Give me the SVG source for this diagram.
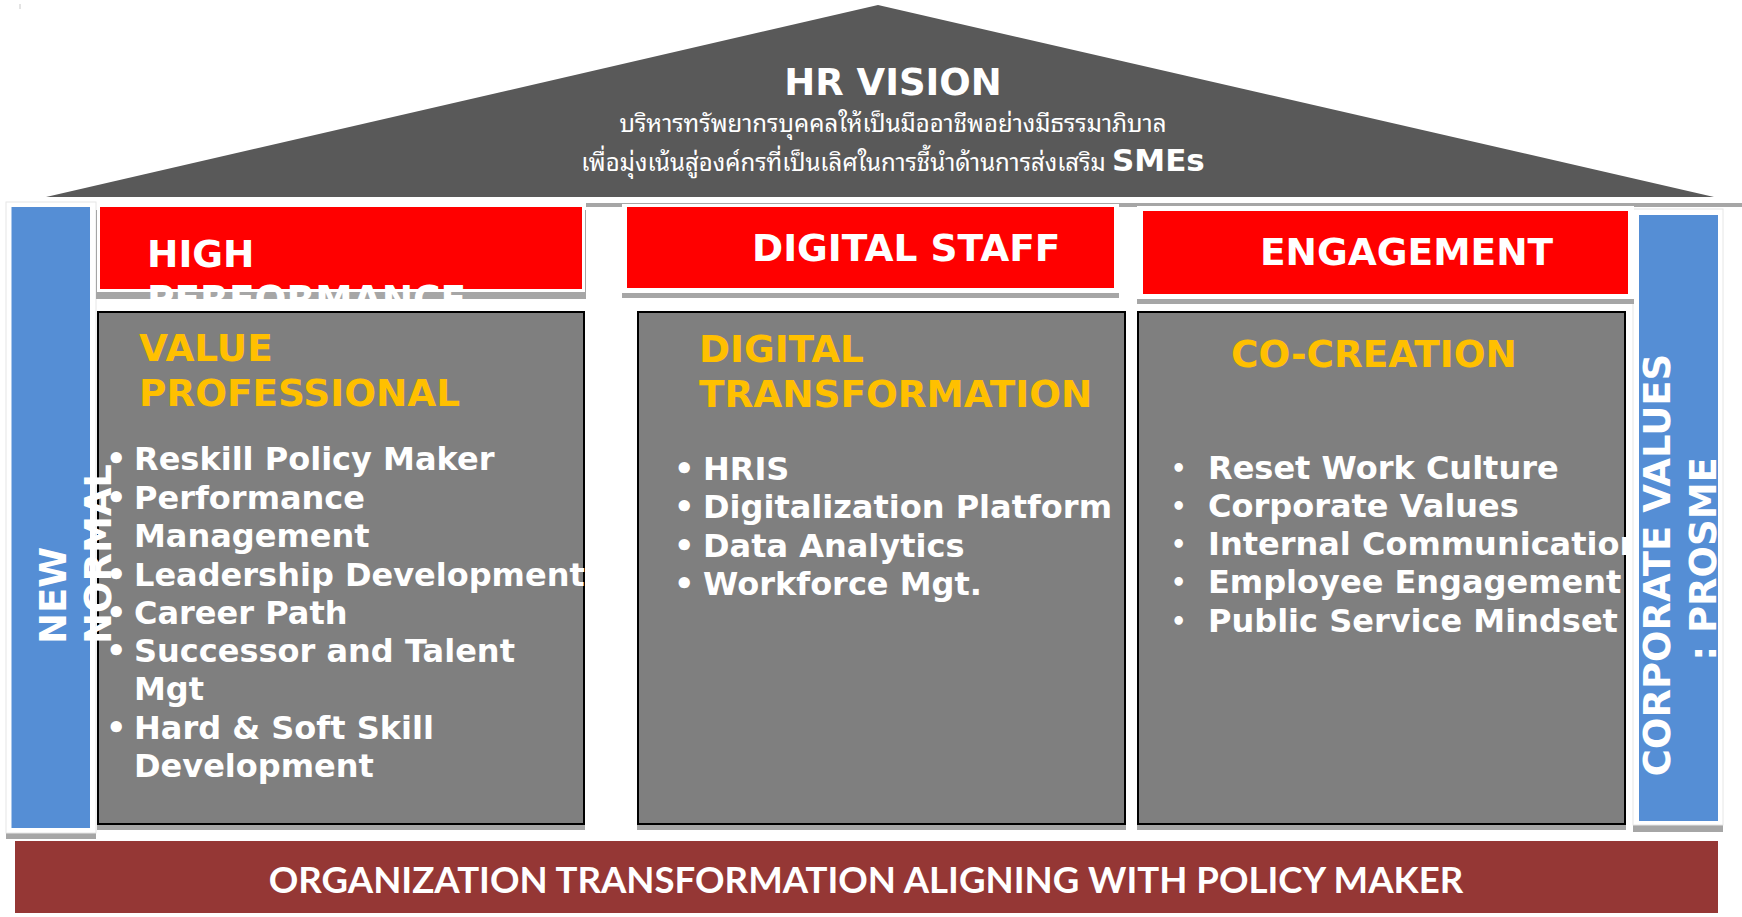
<svg xmlns="http://www.w3.org/2000/svg" width="1742" height="917" viewBox="0 0 1742 917">
  <style>
    .b { font-family: "DejaVu Sans", "Liberation Sans", sans-serif; font-weight: bold; }
    .w { fill: #FFFFFF; }
    .gold { fill: #FFC000; font-size: 37.4px; }
    .vert { font-size: 37px; }
    .cap { font-size: 37.5px; }
    .item { font-size: 32px; fill: #FFFFFF; }
    .thai { font-family: "Noto Sans Thai Looped", "Noto Sans Thai", "Loma", "Garuda", "Noto Sans", sans-serif; fill: #FFFFFF; }
    .shadow { fill: #A6A6A6; }
    .frame { fill: #FFFFFF; }
    .red { fill: #FF0000; }
    .panel { fill: #7F7F7F; stroke: #000000; stroke-width: 2; }
    .pillar { fill: #558ED5; }
  </style>
  <defs>
    <clipPath id="clipHigh"><rect x="90" y="200" width="500" height="99"/></clipPath>
    <clipPath id="clipCo"><rect x="1130" y="300" width="497" height="530"/></clipPath>
  </defs>

  <rect width="1742" height="917" fill="#FFFFFF"/>
  <line x1="20" y1="4" x2="20" y2="9" stroke="#C8C8C8" stroke-width="1"/>

  <!-- roof -->
  <g id="roof">
    <polygon points="878,5 1714,197 46,197" fill="#595959"/>
    <text class="b w" x="893" y="95" font-size="37" text-anchor="middle">HR VISION</text>
    <text class="thai" x="893" y="132" font-size="24" text-anchor="middle">บริหารทรัพยากรบุคคลให้เป็นมืออาชีพอย่างมีธรรมาภิบาล</text>
    <text class="thai" x="893" y="171" font-size="24" text-anchor="middle">เพื่อมุ่งเน้นสู่องค์กรที่เป็นเลิศในการชี้นำด้านการส่งเสริม <tspan class="b" font-size="31">SMEs</tspan></text>
  </g>

  <!-- eave line under the roof -->
  <rect class="shadow" x="586" y="203" width="1156" height="4"/>

  <!-- left pillar -->
  <g id="pillar-new-normal">
    <rect class="shadow" x="6" y="208" width="90" height="631"/>
    <rect class="frame" x="6" y="202" width="90" height="631" stroke="#E6E6E6" stroke-width="1"/>
    <rect class="pillar" x="11.5" y="207" width="78.5" height="621"/>
  </g>

  <!-- right pillar -->
  <g id="pillar-corporate-values">
    <rect class="shadow" x="1633" y="214" width="90" height="618"/>
    <rect class="frame" x="1633" y="209" width="90" height="616" stroke="#E6E6E6" stroke-width="1"/>
    <rect class="pillar" x="1639" y="215" width="79" height="606"/>
    <text class="b w vert" transform="translate(1670,565) rotate(-90)" text-anchor="middle">CORPORATE VALUES</text>
    <text class="b w vert" transform="translate(1716,559) rotate(-90)" text-anchor="middle">: PROSME</text>
  </g>

  <!-- column headers -->
  <g id="header-high-performance">
    <rect class="shadow" x="96" y="210" width="490" height="89"/>
    <rect class="frame" x="97" y="204" width="488" height="88"/>
    <rect class="red" x="100" y="207" width="482" height="82"/>
    <g clip-path="url(#clipHigh)">
      <text class="b w cap" x="147" y="267">HIGH</text>
      <text class="b w cap" x="147" y="312">PERFORMANCE</text>
    </g>
  </g>

  <g id="header-digital-staff">
    <rect class="shadow" x="622" y="209" width="497" height="89"/>
    <rect class="frame" x="622" y="204" width="497" height="89"/>
    <rect class="red" x="627" y="207" width="487" height="81"/>
    <text class="b w cap" x="752" y="261">DIGITAL STAFF</text>
  </g>

  <g id="header-engagement">
    <rect class="shadow" x="1137" y="212" width="497" height="92"/>
    <rect class="frame" x="1137" y="206" width="497" height="93"/>
    <rect class="red" x="1143" y="211" width="485" height="83"/>
    <text class="b w cap" x="1260" y="265">ENGAGEMENT</text>
  </g>

  <!-- column panels -->
  <g id="panel-value-professional">
    <rect class="shadow" x="97" y="318" width="488" height="512"/>
    <rect class="panel" x="98" y="312" width="486" height="512"/>
    <text class="b gold" x="139" y="361">VALUE</text>
    <text class="b gold" x="139" y="406">PROFESSIONAL</text>
    <g class="b item">
      <text x="106" y="470">•</text><text x="134" y="470">Reskill Policy Maker</text>
      <text x="106" y="509">•</text><text x="134" y="509">Performance</text>
      <text x="134" y="547">Management</text>
      <text x="106" y="586">•</text><text x="134" y="586">Leadership Development</text>
      <text x="106" y="624">•</text><text x="134" y="624">Career Path</text>
      <text x="106" y="662">•</text><text x="134" y="662">Successor and Talent</text>
      <text x="134" y="700">Mgt</text>
      <text x="106" y="739">•</text><text x="134" y="739">Hard &amp; Soft Skill</text>
      <text x="134" y="777">Development</text>
    </g>
  </g>

  <g id="panel-digital-transformation">
    <rect class="shadow" x="637" y="318" width="489" height="512"/>
    <rect class="panel" x="638" y="312" width="487" height="512"/>
    <text class="b gold" x="699" y="362">DIGITAL</text>
    <text class="b gold" x="699" y="407">TRANSFORMATION</text>
    <g class="b item">
      <text x="674" y="480">•</text><text x="703" y="480">HRIS</text>
      <text x="674" y="518">•</text><text x="703" y="518">Digitalization Platform</text>
      <text x="674" y="557">•</text><text x="703" y="557">Data Analytics</text>
      <text x="674" y="595">•</text><text x="703" y="595">Workforce Mgt.</text>
    </g>
  </g>

  <g id="panel-co-creation">
    <rect class="shadow" x="1137" y="318" width="489" height="512"/>
    <rect class="panel" x="1138" y="312" width="487" height="512"/>
    <text class="b gold" x="1231" y="367">CO-CREATION</text>
    <g class="b item" clip-path="url(#clipCo)">
      <text x="1171" y="477" font-size="24">•</text><text x="1208" y="479">Reset Work Culture</text>
      <text x="1171" y="515" font-size="24">•</text><text x="1208" y="517">Corporate Values</text>
      <text x="1171" y="553" font-size="24">•</text><text x="1208" y="555">Internal Communication</text>
      <text x="1171" y="591" font-size="24">•</text><text x="1208" y="593">Employee Engagement</text>
      <text x="1171" y="630" font-size="24">•</text><text x="1208" y="632">Public Service Mindset</text>
    </g>
  </g>

  <!-- left pillar label, drawn over the first panel edge -->
  <g id="label-new-normal">
    <text class="b w vert" transform="translate(66,644) rotate(-90)">NEW</text>
    <text class="b w vert" transform="translate(111,644) rotate(-90)">NORMAL</text>
  </g>

  <!-- foundation -->
  <g id="foundation">
    <rect x="15" y="841" width="1703" height="72" fill="#953735"/>
    <text x="866" y="893" font-family="Lato, 'Liberation Sans', sans-serif" font-weight="bold" font-size="36.6" fill="#FFFFFF" text-anchor="middle">ORGANIZATION TRANSFORMATION ALIGNING WITH POLICY MAKER</text>
  </g>
</svg>
